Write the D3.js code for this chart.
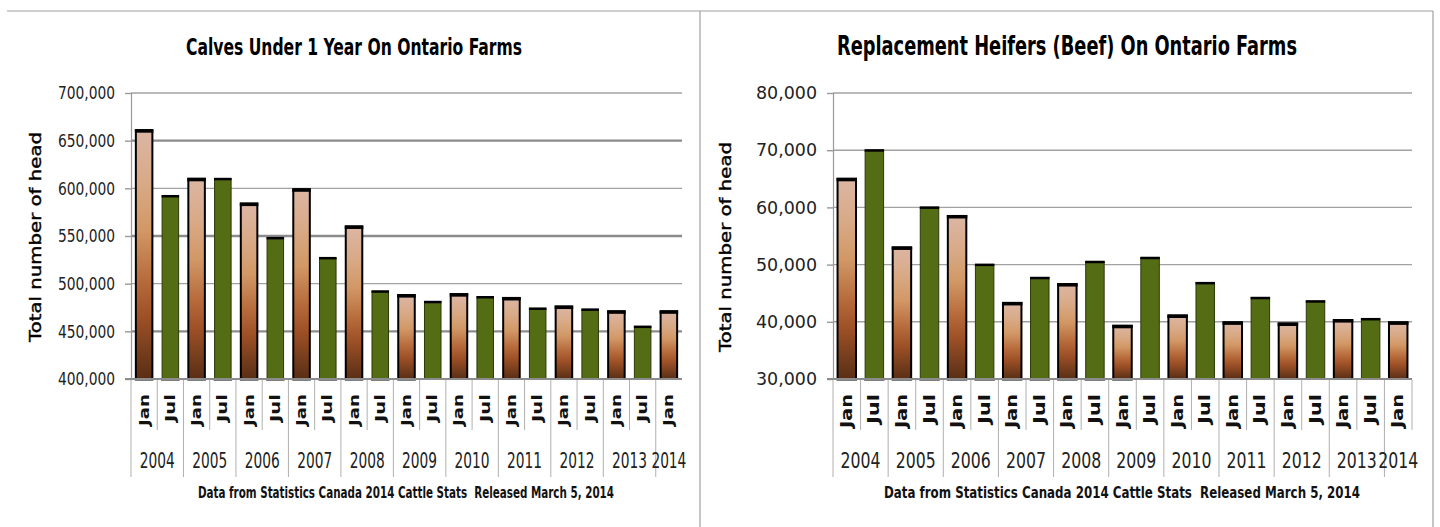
<!DOCTYPE html>
<html>
<head>
<meta charset="utf-8">
<script src="https://cdn.jsdelivr.net/npm/d3@7"></script>
<style>
  html, body { margin: 0; padding: 0; background: #fff; }
  svg { display: block; }
</style>
</head>
<body>
<svg id="chart" width="1440" height="527"></svg>
<script>
// ---------- data ----------
const periods = ["Jan","Jul","Jan","Jul","Jan","Jul","Jan","Jul","Jan","Jul","Jan","Jul","Jan","Jul","Jan","Jul","Jan","Jul","Jan","Jul","Jan"];
const years = ["2004","2005","2006","2007","2008","2009","2010","2011","2012","2013","2014"];
const calves = [661000, 592000, 610000, 610000, 584000, 548000, 599000, 527000, 560000, 492000,
                488000, 481000, 489000, 486000, 485000, 474000, 476000, 473000, 471000, 455000, 471000];
const heifers = [65000, 70000, 53000, 60000, 58500, 50000, 43300, 47700, 46600, 50500,
                 39300, 51200, 41100, 46800, 39900, 44200, 39700, 43600, 40300, 40500, 39900];
const calvesTicks = [400000, 450000, 500000, 550000, 600000, 650000, 700000];
const heiferTicks = [30000, 40000, 50000, 60000, 70000, 80000];
const calvesTitle = "Calves Under 1 Year On Ontario Farms";
const heiferTitle = "Replacement Heifers (Beef) On Ontario Farms";
const yTitle = "Total number of head";
const caption = "Data from Statistics Canada 2014 Cattle Stats  Released March 5, 2014";

// ---------- drawing ----------
const svg = d3.select("#chart");
const defs = svg.append("defs");
const grad = defs.append("linearGradient").attr("id", "janGrad")
  .attr("x1", 0).attr("y1", 0).attr("x2", 0).attr("y2", 1);
[[0, "#dcb6a4"], [0.22, "#d8a985"], [0.4, "#d29866"], [0.6, "#b86c3c"], [0.75, "#9e5026"], [0.9, "#733c1c"], [1, "#5a2e15"]]
  .forEach(([o, c]) => grad.append("stop").attr("offset", o).attr("stop-color", c));

const narrow = "'Liberation Sans Narrow', 'DejaVu Sans Condensed', 'Liberation Sans', sans-serif";

// frames
svg.append("line").attr("x1", 7).attr("x2", 700).attr("y1", 11).attr("y2", 11).attr("stroke", "#a0a0a0").attr("stroke-width", 1.2);
svg.append("line").attr("x1", 700).attr("x2", 700).attr("y1", 11).attr("y2", 527).attr("stroke", "#a0a0a0").attr("stroke-width", 1.2);
svg.append("line").attr("x1", 700).attr("x2", 1433).attr("y1", 11).attr("y2", 11).attr("stroke", "#a0a0a0").attr("stroke-width", 1.2);
svg.append("line").attr("x1", 1433).attr("x2", 1433).attr("y1", 11).attr("y2", 527).attr("stroke", "#a0a0a0").attr("stroke-width", 1.2);

function drawChart(cfg) {
  const g = svg.append("g");
  const idx = d3.range(cfg.values.length);
  const x = d3.scaleBand().domain(idx).range([cfg.x0, cfg.x1]).paddingInner(cfg.pad).paddingOuter(cfg.pad / 2);
  const y = d3.scaleLinear().domain([cfg.ticks[0], cfg.ticks[cfg.ticks.length - 1]]).range([379, 93]);
  const step = x.step();

  // title
  g.append("text").attr("x", cfg.titleX).attr("y", 55).attr("text-anchor", "middle")
    .attr("font-family", narrow).attr("font-weight", "bold").attr("font-size", cfg.titleSize)
    .attr("textLength", cfg.titleLen).attr("lengthAdjust", "spacingAndGlyphs")
    .attr("fill", "#000").text(cfg.title);

  // gridlines
  g.selectAll(".grid").data(cfg.ticks.slice(1)).join("line")
    .attr("x1", cfg.x0).attr("x2", cfg.x1)
    .attr("y1", d => y(d)).attr("y2", d => y(d))
    .attr("stroke", (d, i) => cfg.alt && i % 2 === 0 ? "#8c8c8c" : "#a2a2a2")
    .attr("stroke-width", (d, i) => cfg.alt && i % 2 === 0 ? 2.4 : 1.4);

  // y axis
  const ax = g.append("g").attr("transform", `translate(${cfg.x0},0)`)
    .call(d3.axisLeft(y).tickValues(cfg.ticks).tickFormat(d3.format(",")).tickSize(6).tickPadding(10));
  ax.select(".domain").attr("stroke", "#999").attr("stroke-width", 1.2);
  ax.selectAll(".tick line").attr("stroke", "#999").attr("stroke-width", 1.4);
  ax.selectAll(".tick text").attr("font-family", narrow).attr("font-size", 18).attr("fill", "#222")
    .attr("textLength", d => d3.format(",")(d).length === 7 ? cfg.tickLen7 : cfg.tickLen6)
    .attr("lengthAdjust", "spacingAndGlyphs");

  // y title
  g.append("text").attr("transform", `translate(${cfg.yTitleX},${cfg.yTitleY}) rotate(-90)`)
    .attr("text-anchor", "middle").attr("font-family", "'DejaVu Sans', Verdana, sans-serif")
    .attr("font-size", 16.5).attr("font-weight", "normal").attr("fill", "#000")
    .attr("stroke", "#000").attr("stroke-width", 0.4)
    .attr("textLength", 210).attr("lengthAdjust", "spacingAndGlyphs").text(yTitle);

  // bars
  const bars = g.selectAll(".bar").data(cfg.values).join("g");
  bars.append("rect")
    .attr("x", (d, i) => x(i)).attr("width", x.bandwidth())
    .attr("y", d => y(d)).attr("height", d => y(cfg.ticks[0]) - y(d))
    .attr("fill", (d, i) => periods[i] === "Jan" ? "url(#janGrad)" : "#546c14")
    .attr("stroke", (d, i) => periods[i] === "Jan" ? "#000" : "#2c3a08")
    .attr("stroke-width", (d, i) => periods[i] === "Jan" ? 2 : 1);
  bars.append("rect")
    .attr("x", (d, i) => x(i) - (periods[i] === "Jan" ? 1 : 0.5))
    .attr("width", (d, i) => x.bandwidth() + (periods[i] === "Jan" ? 2 : 1))
    .attr("y", (d, i) => y(d) - 1).attr("height", (d, i) => periods[i] === "Jan" ? 3.5 : 2.5)
    .attr("fill", "#000");
  bars.filter((d, i) => periods[i] === "Jan").append("rect")
    .attr("x", (d, i) => x(i) - 1).attr("width", x.bandwidth() + 2)
    .attr("y", y(cfg.ticks[0]) - 1).attr("height", 2.5).attr("fill", "#000");

  // x axis line
  g.append("line").attr("x1", cfg.x0 - 6).attr("x2", cfg.x1).attr("y1", 379).attr("y2", 379)
    .attr("stroke", "#8c8c8c").attr("stroke-width", 2);

  // category separators
  const seps = d3.range(cfg.values.length + (cfg.rightEdge ? 1 : 0));
  g.selectAll(".sep").data(seps).join("line")
    .attr("x1", i => cfg.x0 + i * step).attr("x2", i => cfg.x0 + i * step)
    .attr("y1", 380).attr("y2", i => (i % 2 === 0 ? 477 : 430))
    .attr("stroke", "#b0b0b0").attr("stroke-width", 1);

  // month labels
  g.selectAll(".mon").data(periods).join("text")
    .attr("transform", (d, i) => `translate(${x(i) + x.bandwidth() / 2 + cfg.monShift},394) rotate(-90)`)
    .attr("text-anchor", "end").attr("font-family", "'DejaVu Sans', Verdana, sans-serif")
    .attr("font-weight", "bold").attr("font-size", cfg.monSize).attr("fill", "#111")
    .attr("textLength", d => d === "Jan" ? cfg.monLen : cfg.monLen - 4).attr("lengthAdjust", "spacingAndGlyphs")
    .text(d => d);

  // year labels
  g.selectAll(".yr").data(years).join("text")
    .attr("x", (d, k) => {
      const i0 = k * 2;
      const i1 = Math.min(k * 2 + 1, cfg.values.length - 1);
      return (x(i0) + x(i1) + x.bandwidth()) / 2;
    })
    .attr("y", 468).attr("text-anchor", "middle")
    .attr("font-family", narrow).attr("font-size", 21).attr("fill", "#222")
    .attr("textLength", cfg.yearLen).attr("lengthAdjust", "spacingAndGlyphs")
    .text(d => d);

  // caption
  g.append("text").attr("x", cfg.capX).attr("y", 498).attr("text-anchor", "middle")
    .attr("font-family", narrow).attr("font-weight", "bold").attr("font-size", 15.5).attr("fill", "#111")
    .style("white-space", "pre")
    .attr("textLength", cfg.capLen).attr("lengthAdjust", "spacingAndGlyphs").text(caption);
}

drawChart({
  values: calves, ticks: calvesTicks, x0: 131, x1: 682, pad: 0.37,
  title: calvesTitle, titleX: 354, titleSize: 23, titleLen: 336,
  tickLen7: 57, tickLen6: 50, yTitleX: 41, yTitleY: 237, alt: true,
  monSize: 13.5, monLen: 32, monShift: 4.5, yearLen: 35, capX: 406, capLen: 416, rightEdge: false
});
drawChart({
  values: heifers, ticks: heiferTicks, x0: 833, x1: 1412, pad: 0.33,
  title: heiferTitle, titleX: 1067, titleSize: 26, titleLen: 460,
  tickLen7: 68, tickLen6: 61, yTitleX: 731, yTitleY: 247, alt: false,
  monSize: 15, monLen: 34, monShift: 5, yearLen: 40, capX: 1122, capLen: 476, rightEdge: true
});
</script>
</body>
</html>
